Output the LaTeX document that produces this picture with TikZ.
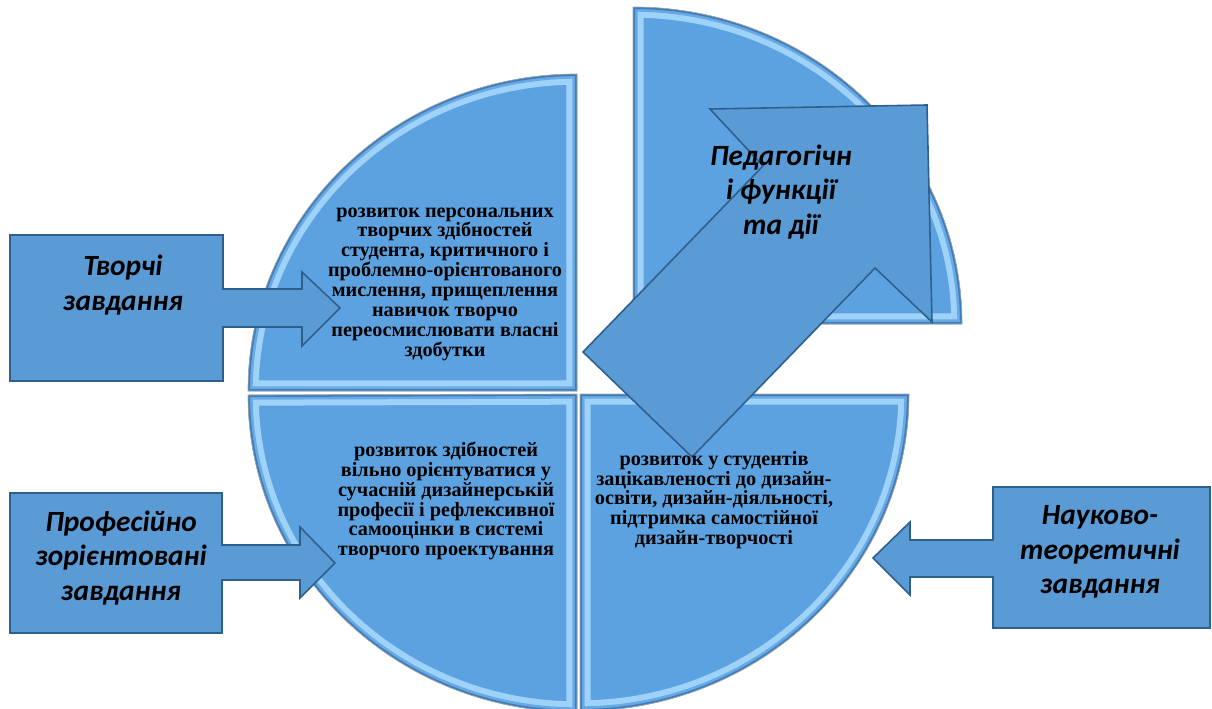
\documentclass[tikz,border=0pt]{standalone}
\usepackage{fontspec}
\setmainfont{Liberation Serif}
\newfontfamily\calloutfont{Carlito}
\usetikzlibrary{positioning}

\definecolor{pieblue}{HTML}{5DA2E0}
\definecolor{piehigh}{HTML}{9ED2F8}
\definecolor{pieshade}{HTML}{3E7DBA}
\definecolor{boxblue}{HTML}{5B9BD5}
\definecolor{boxline}{HTML}{2F5F8C}

% one slice of the pie with a bevelled edge
\newcommand\pieslice[1]{%
  \fill[pieblue] #1;
  \begin{scope}
    \clip #1;
    \draw[piehigh, line width=16pt] #1;
    \draw[pieblue!85!piehigh, line width=7pt] #1;
    \draw[pieshade, line width=3pt] #1;
  \end{scope}
  \draw[gray!70, line width=0.5pt] #1;}

\begin{document}
\begin{tikzpicture}[
    x=0.75pt, y=-0.75pt,        % 1 unit = 1 pixel of the reference
    callout/.style={draw=boxline, fill=boxblue, line width=1.2pt, line join=miter},
    pietext/.style={align=center, font=\fontsize{15.2}{14.9}\selectfont\bfseries},
    labeltext/.style={align=center, font=\calloutfont\fontsize{22}{26}\selectfont\bfseries\itshape}
  ]
  \useasboundingbox (0,0) rectangle (1212,709);

  % four slices (top right one pulled out)
  \pieslice{(577,391) -- (248,391) arc[start angle=180, end angle=270, x radius=329, y radius=317] -- cycle}
  \pieslice{(577,394) -- (577,712) arc[start angle=90, end angle=180, x radius=329, y radius=317] -- cycle}
  \pieslice{(580,394) -- (909,394) arc[start angle=0, end angle=90, x radius=329, y radius=317] -- cycle}
  \pieslice{(633,324) -- (633,7) arc[start angle=270, end angle=360, x radius=329, y radius=317] -- cycle}

  % callouts on the sides
  \draw[callout] (10,235) -- (223,235) -- (223,289) -- (302,289) -- (302,272) -- (340,308)
    -- (302,346) -- (302,327) -- (223,327) -- (223,381) -- (10,381) -- cycle;
  \draw[callout] (10,493) -- (222,493) -- (222,545) -- (300,545) -- (300,527) -- (335,563)
    -- (300,598) -- (300,580) -- (222,580) -- (222,633) -- (10,633) -- cycle;
  \draw[callout] (1210,487) -- (993,487) -- (993,540) -- (910,540) -- (910,522) -- (873,558)
    -- (910,595) -- (910,577) -- (993,577) -- (993,628) -- (1210,628) -- cycle;

  % big arrow to the top right
  \draw[callout] (927,105) -- (710,109) -- (763,166) -- (583,352) -- (692,457)
    -- (875,268) -- (932,322) -- cycle;

  % texts in the slices
  \node[pietext] (tl) at (445,284) {розвиток персональних\\творчих здібностей\\студента, критичного і\\проблемно-орієнтованого\\мислення, прищеплення\\навичок творчо\\переосмислювати власні\\здобутки};
  \node[pietext] (bl) at (446,501) {розвиток здібностей\\вільно орієнтуватися у\\сучасній дизайнерській\\професії і рефлексивної\\самооцінки в системі\\творчого проектування};
  \node[pietext] (br) at (714,500) {розвиток у студентів\\зацікавленості до дизайн-\\освіти, дизайн-діяльності,\\підтримка самостійної\\дизайн-творчості};

  % texts in the callouts
  \node[labeltext] (creative)  at (123,285)  {Творчі\\завдання};
  \node[labeltext] (profess)   at (121,558)  {Професійно\\зорієнтовані\\завдання};
  \node[labeltext] (science)   at (1100,552) {Науково-\\теоретичні\\завдання};
  \node[labeltext] (pedagogic) at (781,192)  {Педагогічн\\і функції\\та дії};

\end{tikzpicture}
\end{document}
